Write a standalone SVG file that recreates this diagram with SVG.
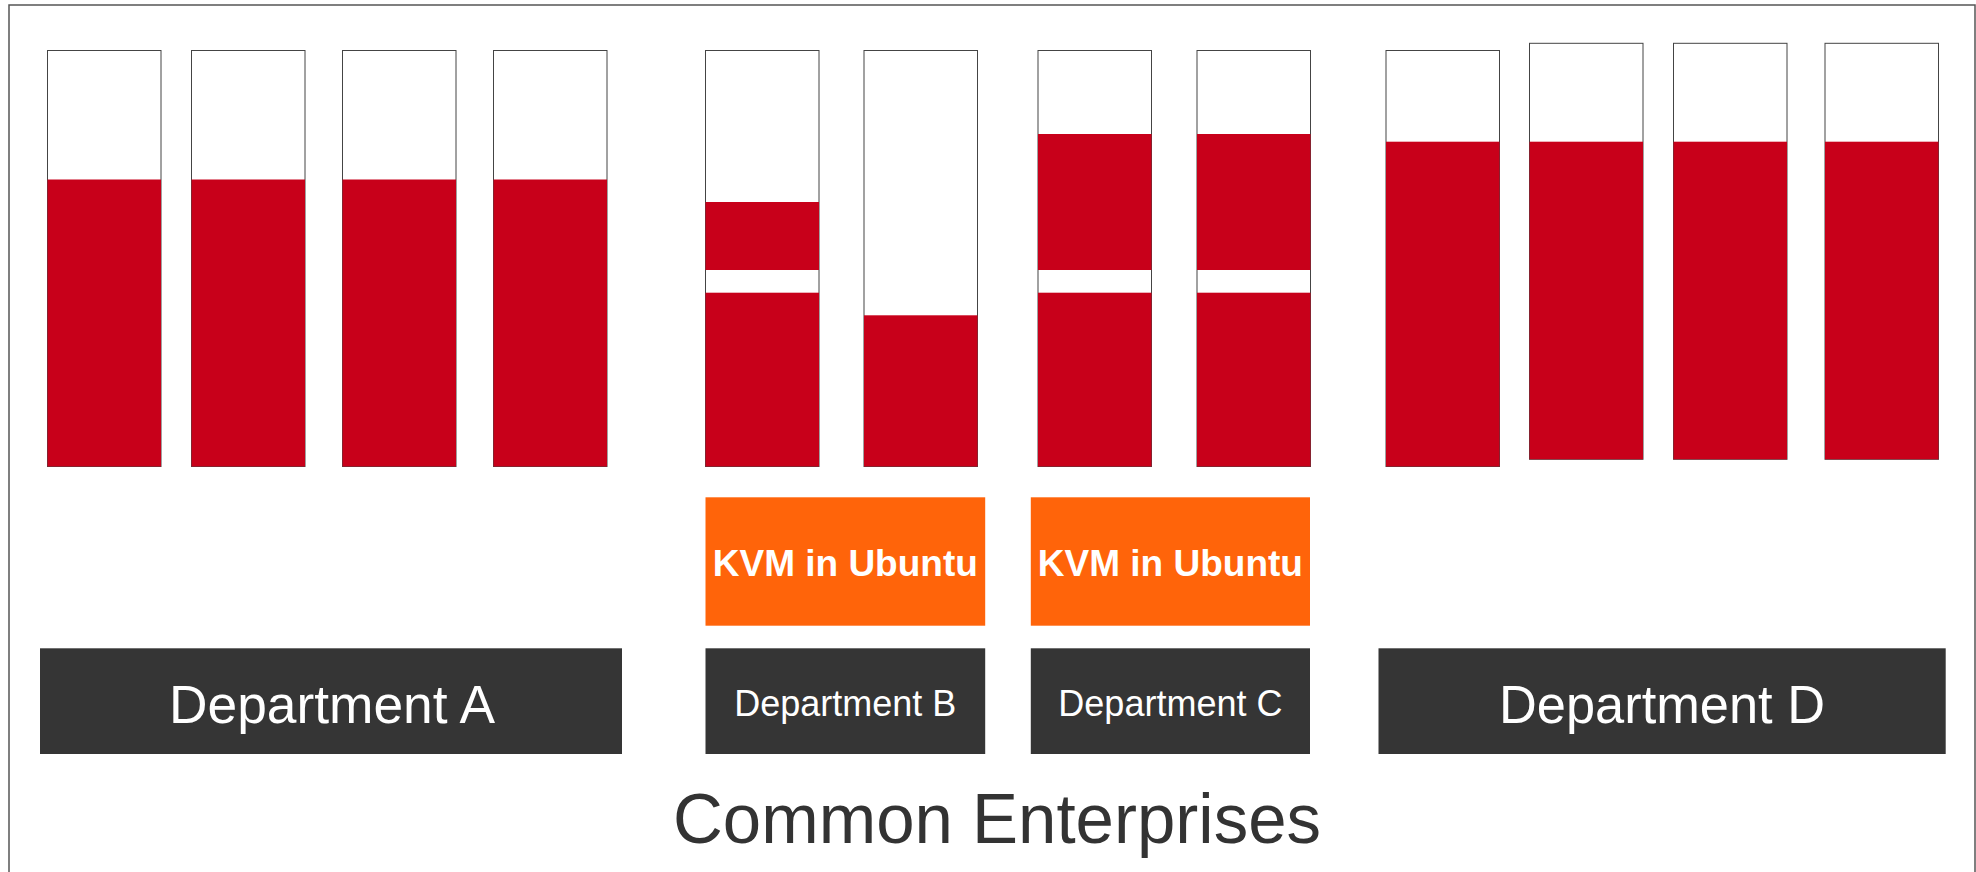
<svg xmlns="http://www.w3.org/2000/svg" width="1976" height="872" viewBox="0 0 1976 872">
<defs>
<style>
.frame{fill:none;stroke:#555;stroke-width:1.5}
.bar{fill:#fff;stroke:#444;stroke-width:1}
.red{fill:#c8001a}
.kvm{fill:#ff640a}
.dept{fill:#353535}
.t-kvm{font-family:"Liberation Sans",Arial,sans-serif;font-weight:bold;font-size:37px;fill:#fff;text-anchor:middle}
.t-big{font-family:"Liberation Sans",Arial,sans-serif;font-size:54px;fill:#fff;text-anchor:middle}
.t-small{font-family:"Liberation Sans",Arial,sans-serif;font-size:36px;fill:#fff;text-anchor:middle}
.t-title{font-family:"Liberation Sans",Arial,sans-serif;font-size:70px;fill:#333;text-anchor:middle}
</style>
</defs>
<rect class="frame" x="9" y="5" width="1966" height="880"/>
<g id="dept-a-servers">
<g id="bar1"><rect class="bar" x="47.5" y="50.5" width="113.5" height="416"/><rect class="red" x="47.5" y="179.5" width="113.5" height="287"/></g>
<g id="bar2"><rect class="bar" x="191.5" y="50.5" width="113.5" height="416"/><rect class="red" x="191.5" y="179.5" width="113.5" height="287"/></g>
<g id="bar3"><rect class="bar" x="342.5" y="50.5" width="113.5" height="416"/><rect class="red" x="342.5" y="179.5" width="113.5" height="287"/></g>
<g id="bar4"><rect class="bar" x="493.5" y="50.5" width="113.5" height="416"/><rect class="red" x="493.5" y="179.5" width="113.5" height="287"/></g>
</g>
<g id="dept-b-servers">
<g id="bar5"><rect class="bar" x="705.5" y="50.5" width="113.5" height="416"/><rect class="red" x="705.5" y="202" width="113.5" height="68"/><rect class="red" x="705.5" y="292.7" width="113.5" height="173.8"/></g>
<g id="bar6"><rect class="bar" x="864" y="50.5" width="113.5" height="416"/><rect class="red" x="864" y="315.3" width="113.5" height="151.2"/></g>
</g>
<g id="dept-c-servers">
<g id="bar7"><rect class="bar" x="1038" y="50.5" width="113.5" height="416"/><rect class="red" x="1038" y="134" width="113.5" height="136"/><rect class="red" x="1038" y="292.7" width="113.5" height="173.8"/></g>
<g id="bar8"><rect class="bar" x="1197" y="50.5" width="113.5" height="416"/><rect class="red" x="1197" y="134" width="113.5" height="136"/><rect class="red" x="1197" y="292.7" width="113.5" height="173.8"/></g>
</g>
<g id="dept-d-servers">
<g id="bar9"><rect class="bar" x="1386" y="50.5" width="113.5" height="416"/><rect class="red" x="1386" y="141.7" width="113.5" height="324.8"/></g>
<g id="bar10"><rect class="bar" x="1529.5" y="43.3" width="113.5" height="416"/><rect class="red" x="1529.5" y="141.7" width="113.5" height="317.6"/></g>
<g id="bar11"><rect class="bar" x="1673.5" y="43.3" width="113.5" height="416"/><rect class="red" x="1673.5" y="141.7" width="113.5" height="317.6"/></g>
<g id="bar12"><rect class="bar" x="1825" y="43.3" width="113.5" height="416"/><rect class="red" x="1825" y="141.7" width="113.5" height="317.6"/></g>
</g>
<g id="kvm-b"><rect class="kvm" x="705.5" y="497.3" width="279.7" height="128.4"/><text class="t-kvm" x="845.3" y="576">KVM in Ubuntu</text></g>
<g id="kvm-c"><rect class="kvm" x="1030.8" y="497.3" width="279.2" height="128.4"/><text class="t-kvm" x="1170.4" y="576">KVM in Ubuntu</text></g>
<g id="dept-a"><rect class="dept" x="40" y="648.3" width="582" height="105.7"/><text class="t-big" x="332" y="722.7" textLength="326" lengthAdjust="spacingAndGlyphs">Department A</text></g>
<g id="dept-b"><rect class="dept" x="705.5" y="648.3" width="279.7" height="105.7"/><text class="t-small" x="845.3" y="716">Department B</text></g>
<g id="dept-c"><rect class="dept" x="1030.8" y="648.3" width="279.2" height="105.7"/><text class="t-small" x="1170.4" y="716">Department C</text></g>
<g id="dept-d"><rect class="dept" x="1378.5" y="648.3" width="567.2" height="105.7"/><text class="t-big" x="1662" y="722.7" textLength="326" lengthAdjust="spacingAndGlyphs">Department D</text></g>
<g id="connectors"></g>
<text id="title" class="t-title" x="997" y="842.7" textLength="648" lengthAdjust="spacingAndGlyphs">Common Enterprises</text>
</svg>
